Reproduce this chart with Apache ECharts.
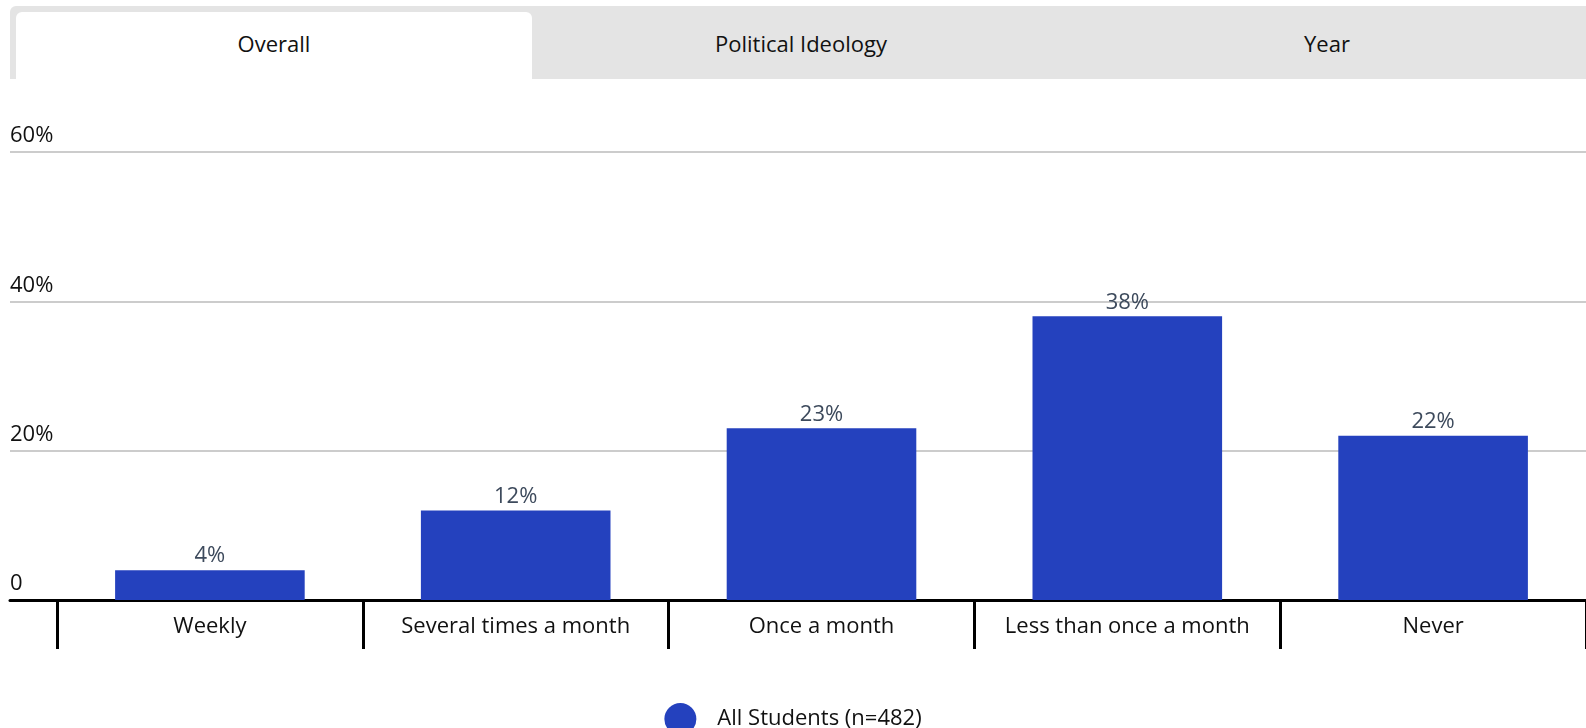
<!DOCTYPE html>
<html>
<head>
<meta charset="utf-8">
<script src="https://cdn.jsdelivr.net/npm/echarts@6/dist/echarts.min.js"></script>
<style>
  html, body { margin: 0; padding: 0; background: #fff; overflow: hidden; }
  body { width: 1586px; height: 728px; position: relative; font-family: "Open Sans", "Noto Sans", sans-serif; }
  #chart { position: absolute; left: 0; top: 0; width: 1586px; height: 728px; }
  .tabbar { position: absolute; left: 10px; top: 6px; width: 1576px; height: 73px; background: #e4e4e4; border-radius: 6px 0 0 0; z-index: 2; }
  .tab { position: absolute; top: 6px; height: 67px; line-height: 63px; text-align: center; font-size: 22px; color: #111; }
  .tab.active { background: #fff; border-radius: 6px 6px 0 0; }
</style>
</head>
<body>
<div id="chart"></div>
<div class="tabbar">
  <div class="tab active" style="left:6px;width:516px;">Overall</div>
  <div class="tab" style="left:528px;width:526px;">Political Ideology</div>
  <div class="tab" style="left:1054px;width:526px;">Year</div>
</div>
<script>
// Survey frequency categories and share of students (%)
const categories = ['Weekly', 'Several times a month', 'Once a month', 'Less than once a month', 'Never'];
const allStudents = [4, 12, 23, 38, 22];
const seriesName = 'All Students (n=482)';
const yTicks = { min: 0, max: 60, interval: 20 };

const FONT = '"Open Sans", "Noto Sans", sans-serif';
const chart = echarts.init(document.getElementById('chart'), null, { renderer: 'canvas' });

chart.setOption({
  animation: false,
  textStyle: { fontFamily: FONT },
  legend: {
    data: [seriesName],
    top: 698,
    left: 'center',
    icon: 'circle',
    itemWidth: 32,
    itemHeight: 32,
    textStyle: { fontSize: 22, color: '#111', fontFamily: FONT, padding: [0, 0, 0, 16] }
  },
  grid: [
    // full-width grid carrying the gridlines, y labels and baseline
    { left: 10, right: 0, top: 152, bottom: 128, containLabel: false },
    // category area holding the bars
    { left: 57, width: 1531, top: 152, bottom: 128, containLabel: false }
  ],
  xAxis: [
    {
      gridIndex: 0, type: 'value', min: 0, max: 1,
      axisLine: { show: true, onZero: false, lineStyle: { color: '#000', width: 3 } },
      axisTick: { show: false }, axisLabel: { show: false }, splitLine: { show: false }
    },
    {
      gridIndex: 1, type: 'category', data: categories,
      axisLine: { show: false },
      axisTick: { show: true, interval: 0, length: 49, lineStyle: { color: '#000', width: 3 } },
      axisLabel: { interval: 0, hideOverlap: false, color: '#111', fontSize: 22, margin: 16, fontFamily: FONT },
      splitLine: { show: false }
    }
  ],
  yAxis: [
    {
      gridIndex: 0, type: 'value', min: yTicks.min, max: yTicks.max, interval: yTicks.interval,
      axisLine: { show: false }, axisTick: { show: false },
      splitLine: { show: true, lineStyle: { color: '#cccccc', width: 2 } },
      axisLabel: {
        inside: true, margin: 0, align: 'left', verticalAlign: 'bottom',
        padding: [0, 0, 5, 0],
        color: '#111', fontSize: 22, fontFamily: FONT,
        formatter: v => (v === 0 ? '0' : v + '%')
      }
    },
    {
      gridIndex: 1, type: 'value', min: yTicks.min, max: yTicks.max, interval: yTicks.interval,
      show: false
    }
  ],
  series: [
    {
      name: seriesName,
      type: 'bar',
      xAxisIndex: 1,
      yAxisIndex: 1,
      data: allStudents,
      barWidth: '62%',
      itemStyle: { color: '#2441be' },
      label: {
        show: true, position: 'top', distance: 3,
        color: '#3d4a5c', fontSize: 22, fontFamily: FONT,
        formatter: '{c}%'
      }
    }
  ]
});
</script>
</body>
</html>
